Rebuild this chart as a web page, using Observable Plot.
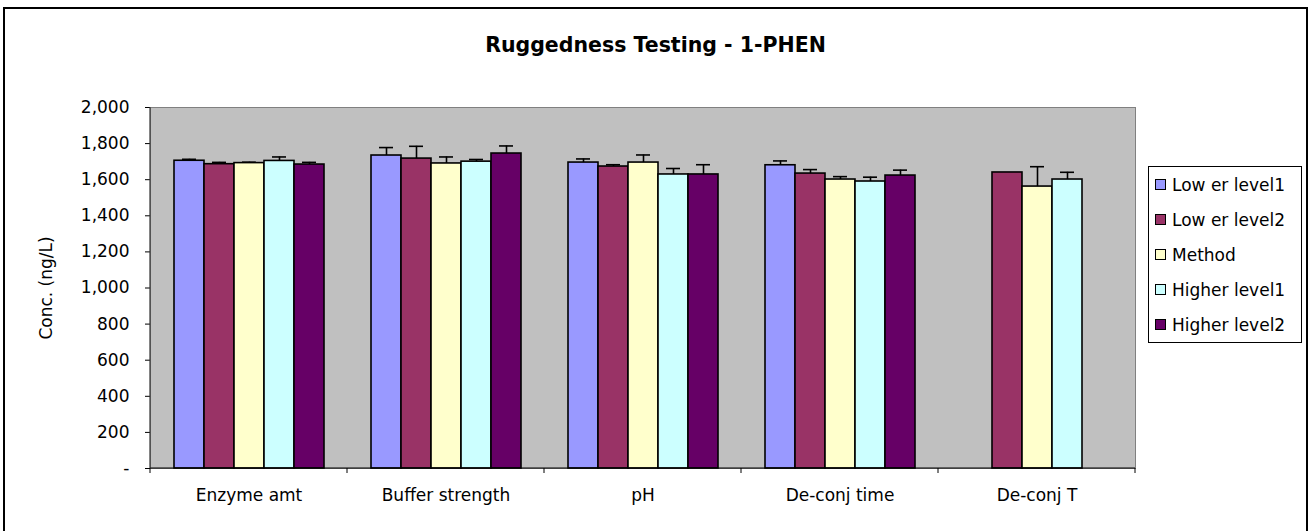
<!DOCTYPE html>
<html>
<head>
<meta charset="utf-8">
<script src="https://cdn.jsdelivr.net/npm/d3@7"></script>
<script src="https://cdn.jsdelivr.net/npm/@observablehq/plot@0.6"></script>
<style>
  html, body { margin: 0; padding: 0; background: #fff; }
  body { width: 1313px; height: 531px; position: relative; overflow: hidden; font-family: "DejaVu Sans", sans-serif; }
  #border { position: absolute; left: 3px; top: 7px; width: 1305px; height: 540px; border: 2px solid #000; box-sizing: border-box; }
  #title { position: absolute; left: 3px; width: 1305px; top: 33px; text-align: center; font-weight: bold; font-size: 20.5px; color: #000; }
  #chart { position: absolute; left: 0; top: 0; }
  #legend { position: absolute; left: 1148px; top: 166px; width: 154px; border: 1px solid #000; background: #fff; box-sizing: border-box; padding: 0 0 0 6px; }
  .item { display: flex; align-items: center; height: 35px; font-size: 17px; white-space: nowrap; }
  .sw { width: 9px; height: 9px; border: 1.5px solid #000; margin-right: 6px; flex: none; }
</style>
</head>
<body>
<div id="border"></div>
<div id="title">Ruggedness Testing - 1-PHEN</div>
<div id="chart"></div>
<div id="legend"></div>
<script>
const categories = ["Enzyme amt", "Buffer strength", "pH", "De-conj time", "De-conj T"];
const series = ["Low er level1", "Low er level2", "Method", "Higher level1", "Higher level2"];
const colors = ["#9999FF", "#993366", "#FFFFCC", "#CCFFFF", "#660066"];

const lowerLevel1 = [1705, 1734, 1695, 1680, null];
const lowerLevel2 = [1686, 1717, 1673, 1634, 1640];
const method = [1692, 1690, 1695, 1601, 1562];
const higherLevel1 = [1704, 1700, 1629, 1590, 1601];
const higherLevel2 = [1684, 1745, 1629, 1623, null];

const lowerLevel1Err = [8, 44, 20, 24, null];
const lowerLevel2Err = [10, 68, 10, 22, null];
const methodErr = [5, 36, 42, 16, 110];
const higherLevel1Err = [22, 12, 33, 24, 40];
const higherLevel2Err = [12, 42, 54, 30, null];

const yTicks = [0, 200, 400, 600, 800, 1000, 1200, 1400, 1600, 1800, 2000];

const valueSets = [lowerLevel1, lowerLevel2, method, higherLevel1, higherLevel2];
const errSets = [lowerLevel1Err, lowerLevel2Err, methodErr, higherLevel1Err, higherLevel2Err];

const data = [];
series.forEach((s, j) => categories.forEach((c, i) => {
  const v = valueSets[j][i];
  if (v != null) data.push({category: c, series: s, value: v, err: errSets[j][i]});
}));
const errData = data.filter(d => d.err != null).map(d => ({...d, top: d.value + d.err}));

const axisMark = Plot.frame({
  facet: "super",
  render: (index, scales, values, dims) => {
    const {fx, y} = scales;
    const g = d3.create("svg:g").attr("stroke", "#000").attr("fill", "none");
    const y0 = y(0);
    const left = fx(categories[0]);
    const right = fx(categories[categories.length - 1]) + fx.bandwidth();
    g.append("line").attr("x1", left).attr("x2", right).attr("y1", y0).attr("y2", y0).attr("stroke-width", 1.2);
    g.append("line").attr("x1", left).attr("x2", left).attr("y1", y0).attr("y2", y(2000)).attr("stroke", "#333").attr("stroke-width", 1.2);
    const edges = categories.map(c => fx(c)).concat([right]);
    for (const e of edges) g.append("line").attr("x1", e).attr("x2", e).attr("y1", y0).attr("y2", y0 + 5);
    return g.node();
  }
});

const plot = Plot.plot({
  width: 1140,
  height: 531,
  marginLeft: 148,
  marginRight: 4,
  marginTop: 107,
  marginBottom: 63,
  style: {background: "transparent", fontFamily: "DejaVu Sans, sans-serif", fontSize: "17px", color: "#000"},
  fx: {domain: categories, padding: 0, label: null},
  x: {domain: series, paddingInner: 0, paddingOuter: 0.75, axis: null},
  y: {domain: [0, 2000], label: null},
  color: {domain: series, range: colors},
  marks: [
    Plot.frame({facet: "super", fill: "#C0C0C0", stroke: "#808080"}),
    Plot.barY(data, {fx: "category", x: "series", y: "value", fill: "series", stroke: "#000", strokeWidth: 1.6}),
    Plot.ruleX(errData, {fx: "category", x: "series", y1: "value", y2: "top", stroke: "#000", strokeWidth: 1.6}),
    Plot.tickY(errData, {fx: "category", x: "series", y: "top", stroke: "#000", strokeWidth: 1.6, insetLeft: 8, insetRight: 8}),
    Plot.axisY({ticks: yTicks, tickFormat: d => d === 0 ? "-" : d3.format(",")(d), tickSize: 5, tickPadding: 16, fontSize: 17,
      label: "Conc. (ng/L)", labelAnchor: "center", labelArrow: "none", labelOffset: 111}),
    Plot.axisFx({anchor: "bottom", tickSize: 0, tickPadding: 20, fontSize: 17, label: null}),
    axisMark
  ]
});
document.getElementById("chart").appendChild(plot);

const legend = document.getElementById("legend");
series.forEach((s, i) => {
  const item = document.createElement("div");
  item.className = "item";
  const sw = document.createElement("span");
  sw.className = "sw";
  sw.style.background = colors[i];
  item.appendChild(sw);
  item.appendChild(document.createTextNode(s));
  legend.appendChild(item);
});
</script>
</body>
</html>
